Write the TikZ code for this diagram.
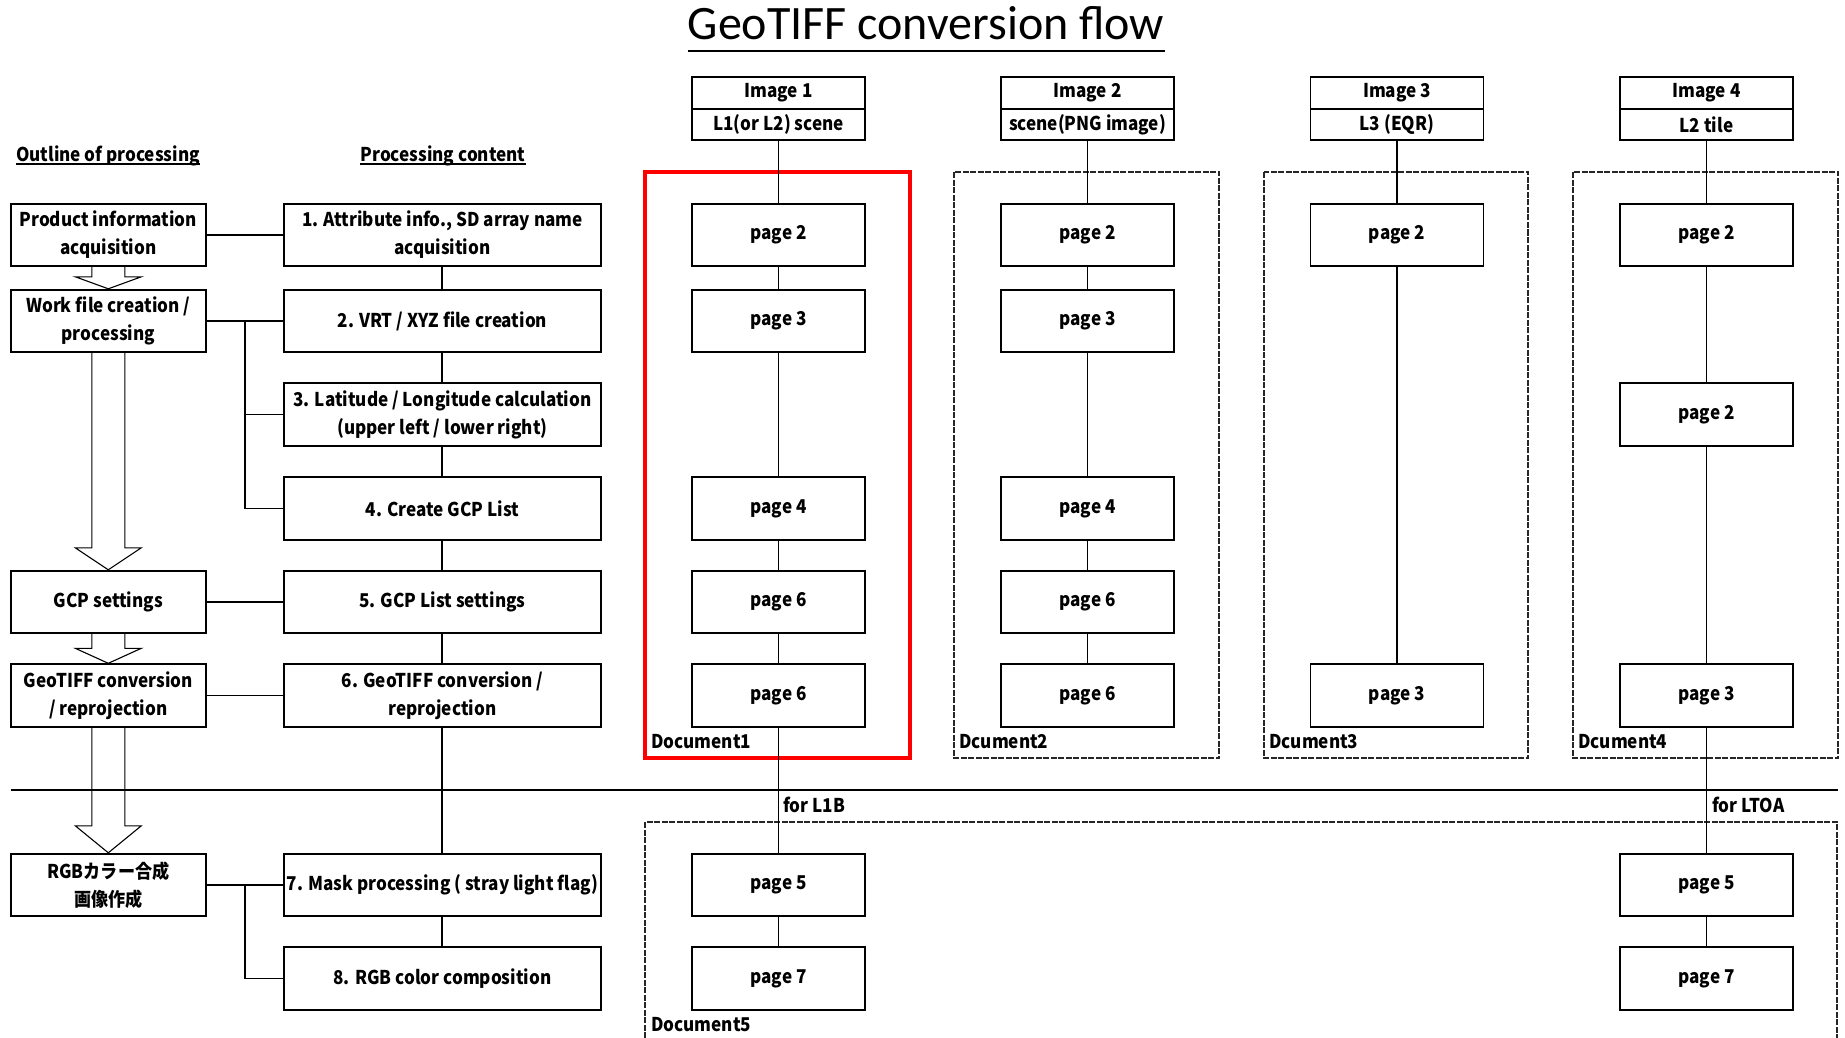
\documentclass[tikz,border=0pt]{standalone}
\usepackage{fontspec}
\setmainfont{Noto Sans CJK JP}[FakeStretch=0.9]
\newfontfamily\titlefont{Carlito}
\usetikzlibrary{calc}
\newcommand\boxfont{\fontsize{19}{28}\selectfont\bfseries}
\newcommand\blkarrow[3]{%
  \draw[blockarr] let \p1=(#1.south), \p2=(#2.north) in
    (\x1-16.5pt,\y1) -- (\x1-16.5pt,\y2+#3pt) -- (\x1-33pt,\y2+#3pt) -- (\x1,\y2)
    -- (\x1+33pt,\y2+#3pt) -- (\x1+16.5pt,\y2+#3pt) -- (\x1+16.5pt,\y1);}
\begin{document}
\begin{tikzpicture}[x=1pt,y=-1pt,
  base/.style={draw, line width=1.9pt, inner xsep=0pt, inner ysep=0pt, align=center, font=\boxfont},
  outl/.style={base, minimum width=195.5pt, minimum height=62.5pt},
  proc/.style={base, minimum width=317.5pt, minimum height=62.5pt},
  page/.style={base, minimum width=173pt, minimum height=62.5pt},
  hdr/.style={base, minimum width=173pt, minimum height=31.5pt},
  conn/.style={line width=1.9pt},
  blockarr/.style={line width=1.1pt},
  docframe/.style={line width=1.4pt, black!85, dash pattern=on 6pt off 1.5pt},
  redframe/.style={line width=4pt, red},
  lbl/.style={font=\boxfont, inner sep=0pt}]
\clip (0,0) rectangle (1845,1038);
\fill[white] (0,0) rectangle (1845,1038);

% title
\node[inner sep=0pt, anchor=base, font=\titlefont\fontsize{48}{52}\selectfont] (title) at (926,40) {GeoTIFF conversion flow};
\draw[line width=2.4pt] ([yshift=-11pt]title.base west) -- ([yshift=-11pt]title.base east);

% headings
\node[lbl, anchor=base west] (hout) at (16,161) {Outline of processing};
\draw[line width=1.4pt] ([yshift=-3pt]hout.base west) -- ([yshift=-3pt]hout.base east);
\node[lbl, anchor=base] (hproc) at (443,161) {Processing content};
\draw[line width=1.4pt] ([yshift=-3pt]hproc.base west) -- ([yshift=-3pt]hproc.base east);

% frames
\draw[redframe] (645,172) rectangle (910,758);
\draw[docframe] (954,172) rectangle (1219,758);
\draw[docframe] (1264,172) rectangle (1528,758);
\draw[docframe] (1573,172) rectangle (1838,758);
\draw[docframe] (645,822) rectangle (1837,1070);

% outline boxes
\node[outl] (prod) at (108.3,235) {Product information\\acquisition};
\node[outl] (work) at (108.3,321) {Work file creation /\\processing};
\node[outl] (gcp) at (108.3,602) {GCP settings};
\node[outl] (geo) at (108.3,695.5) {GeoTIFF conversion\\/ reprojection};
\node[outl] (rgb) at (108.3,885) {RGBカラー合成\\画像作成};

% processing boxes
\node[proc] (b1) at (442.4,235) {1. Attribute info., SD array name\\acquisition};
\node[proc] (b2) at (442.4,321) {2. VRT / XYZ file creation};
\node[proc] (b3) at (442.4,414.5) {3. Latitude / Longitude calculation\\(upper left / lower right)};
\node[proc] (b4) at (442.4,508.5) {4. Create GCP List};
\node[proc] (b5) at (442.4,602) {5. GCP List settings};
\node[proc] (b6) at (442.4,695.5) {6. GeoTIFF conversion /\\reprojection};
\node[proc] (b7) at (442.4,885) {7. Mask processing ( stray light flag)};
\node[proc] (b8) at (442.4,978.5) {8. RGB color composition};

% column 1
\node[hdr] (h1a) at (778.5,93) {Image 1};
\node[hdr] (h1b) at (778.5,124.5) {L1(or L2) scene};
\node[page] (p1a) at (778.5,235) {page 2};
\node[page] (p1b) at (778.5,321) {page 3};
\node[page] (p1d) at (778.5,508.5) {page 4};
\node[page] (p1e) at (778.5,602) {page 6};
\node[page] (p1f) at (778.5,695.5) {page 6};
\node[page] (p1g) at (778.5,885) {page 5};
\node[page] (p1h) at (778.5,978.5) {page 7};
% column 2
\node[hdr] (h2a) at (1087.5,93) {Image 2};
\node[hdr] (h2b) at (1087.5,124.5) {scene(PNG image)};
\node[page] (p2a) at (1087.5,235) {page 2};
\node[page] (p2b) at (1087.5,321) {page 3};
\node[page] (p2d) at (1087.5,508.5) {page 4};
\node[page] (p2e) at (1087.5,602) {page 6};
\node[page] (p2f) at (1087.5,695.5) {page 6};
% column 3
\node[hdr] (h3a) at (1397,93) {Image 3};
\node[hdr] (h3b) at (1397,124.5) {L3 (EQR)};
\node[page] (p3a) at (1397,235) {page 2};
\node[page] (p3f) at (1397,695.5) {page 3};
% column 4
\node[hdr] (h4a) at (1706.5,93) {Image 4};
\node[hdr] (h4b) at (1706.5,124.5) {L2 tile};
\node[page] (p4a) at (1706.5,235) {page 2};
\node[page] (p4c) at (1706.5,414.5) {page 2};
\node[page] (p4f) at (1706.5,695.5) {page 3};
\node[page] (p4g) at (1706.5,885) {page 5};
\node[page] (p4h) at (1706.5,978.5) {page 7};

% labels
\node[lbl, anchor=west] (d1) at (651,742) {Document1};
\node[lbl, anchor=west] (d2) at (959,742) {Dcument2};
\node[lbl, anchor=west] (d3) at (1269,742) {Dcument3};
\node[lbl, anchor=west] (d4) at (1578,742) {Dcument4};
\node[lbl, anchor=west] (d5) at (651,1025) {Document5};
\node[lbl, anchor=west] (fl1) at (783,805) {for L1B};
\node[lbl, anchor=west] (fl2) at (1712,805) {for LTOA};

% separator line
\coordinate (sepL) at (10.6,790);
\coordinate (sepR) at (1838,790);
\draw[conn] (sepL) -- (sepR);

% left connectors
\draw[conn] (prod.east) -- (b1.west);
\draw[conn] (work.east) -- (b2.west);
\draw[conn] (gcp.east) -- (b5.west);
\draw[conn] (geo.east) -- (b6.west);
\draw[conn] (rgb.east) -- (b7.west);
\coordinate (wk) at (245,321);
\draw[conn] (wk) |- (b4.west);
\draw[conn] (wk |- b3.west) -- (b3.west);
\coordinate (rg) at (245,885);
\draw[conn] (rg) |- (b8.west);
\draw[conn] (b1.south) -- (b2.north);
\draw[conn] (b2.south) -- (b3.north);
\draw[conn] (b3.south) -- (b4.north);
\draw[conn] (b4.south) -- (b5.north);
\draw[conn] (b5.south) -- (b6.north);
\draw[conn] (b6.south) -- (b7.north);
\draw[conn] (b7.south) -- (b8.north);

% block arrows
\blkarrow{prod}{work}{12}
\blkarrow{work}{gcp}{22}
\blkarrow{gcp}{geo}{15}
\blkarrow{geo}{rgb}{27}

% column connectors
\draw[conn] (h1b.south) -- (p1a.north);
\draw[conn] (p1a.south) -- (p1b.north);
\draw[conn] (p1b.south) -- (p1d.north);
\draw[conn] (p1d.south) -- (p1e.north);
\draw[conn] (p1e.south) -- (p1f.north);
\draw[conn] (p1f.south) -- (p1g.north);
\draw[conn] (p1g.south) -- (p1h.north);

\draw[conn] (h2b.south) -- (p2a.north);
\draw[conn] (p2a.south) -- (p2b.north);
\draw[conn] (p2b.south) -- (p2d.north);
\draw[conn] (p2d.south) -- (p2e.north);
\draw[conn] (p2e.south) -- (p2f.north);

\draw[conn] (h3b.south) -- (p3a.north);
\draw[conn] (p3a.south) -- (p3f.north);

\draw[conn] (h4b.south) -- (p4a.north);
\draw[conn] (p4a.south) -- (p4c.north);
\draw[conn] (p4c.south) -- (p4f.north);
\draw[conn] (p4f.south) -- (p4g.north);
\draw[conn] (p4g.south) -- (p4h.north);
\end{tikzpicture}
\end{document}
